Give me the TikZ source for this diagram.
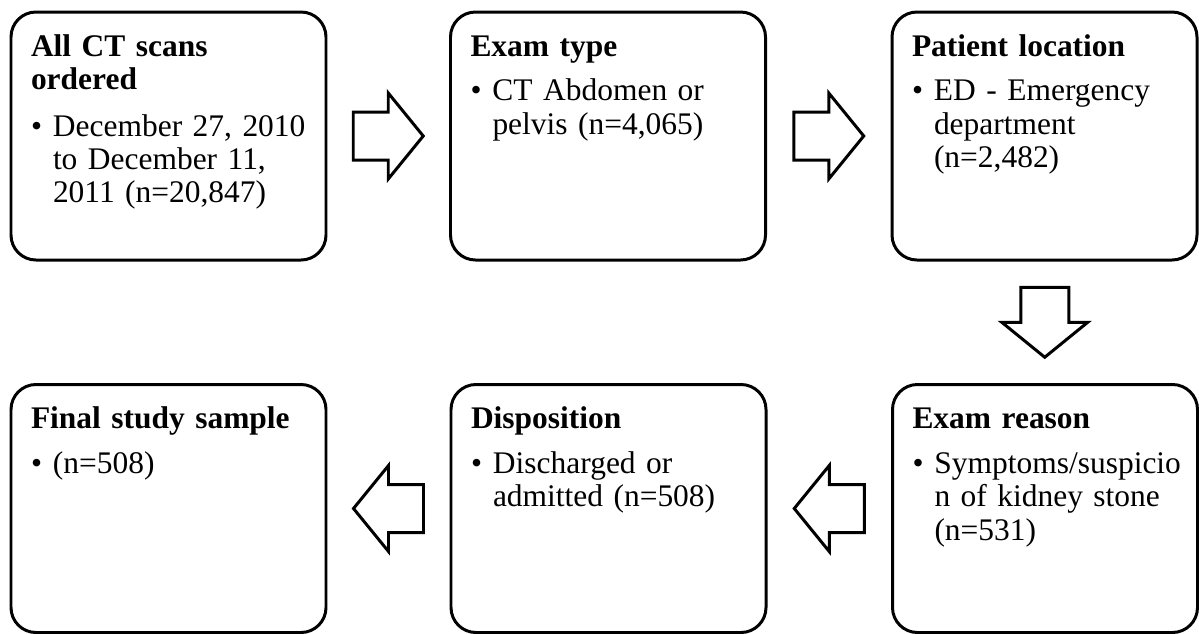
\documentclass[tikz,border=0pt]{standalone}
\usepackage{fontspec}
\setmainfont{Liberation Serif}
\usetikzlibrary{calc}
\hfuzz=3pt

\newcommand{\stagehead}[1]{\textbf{\begin{tabular}[t]{@{}l@{}}#1\end{tabular}}\par\vspace{6.6pt}}
\newcommand{\stageitem}[1]{\noindent\makebox[0.44cm][l]{\textbullet}\begin{tabular}[t]{@{}l@{}}#1\end{tabular}}

\begin{document}
\begin{tikzpicture}[font=\fontsize{17.9}{19}\selectfont]
\tikzset{
    stage/.style={rectangle, rounded corners=0.5cm, draw=black, line width=1.7pt,
                  align=left, text width=5.5cm, text height=0.68cm, text depth=3.88cm,
                  inner xsep=0.4cm, inner ysep=0.2cm},
    narrow/.style={text width=5.3cm},
    blockarrow/.style={draw=black, fill=white, line width=1.7pt, line join=miter},
    flowarrow/.pic={\draw[blockarrow] (-0.7,0.48) -- (0,0.48) -- (0,0.86) -- (0.7,0)
                    -- (0,-0.86) -- (0,-0.48) -- (-0.7,-0.48) -- cycle;}
}
\useasboundingbox (0,0) rectangle (23.98,-12.66);
% Top row
\node[stage]         (scans)    at (3.37, -2.72)  {\stagehead{All CT scans\\ordered}\stageitem{December 27, 2010\\to December 11,\\2011 (n=20,847)}};
\node[stage]         (type)     at (12.16,-2.72)  {\stagehead{Exam type}\stageitem{CT Abdomen or\\pelvis (n=4,065)}};
\node[stage, narrow] (location) at (20.89,-2.72)  {\stagehead{Patient location}\stageitem{ED - Emergency\\department\\(n=2,482)}};
% Bottom row
\node[stage, narrow] (reason)      at (20.9, -10.17) {\stagehead{Exam reason}\stageitem{Symptoms/suspicio\\n of kidney stone\\(n=531)}};
\node[stage]         (disposition) at (12.17,-10.17) {\stagehead{Disposition}\stageitem{Discharged or\\admitted (n=508)}};
\node[stage]         (sample)      at (3.37, -10.17) {\stagehead{Final study sample}\stageitem{(n=508)}};
% Block arrows between the stages
\pic at ($(scans.east)!0.5!(type.west)$) {flowarrow};
\pic at ($(type.east)!0.5!(location.west)$) {flowarrow};
\pic[rotate=-90] at ($(location.south)!0.5!(reason.north)$) {flowarrow};
\pic[rotate=180] at ($(reason.west)!0.5!(disposition.east)$) {flowarrow};
\pic[rotate=180] at ($(disposition.west)!0.5!(sample.east)$) {flowarrow};
\end{tikzpicture}
\end{document}
